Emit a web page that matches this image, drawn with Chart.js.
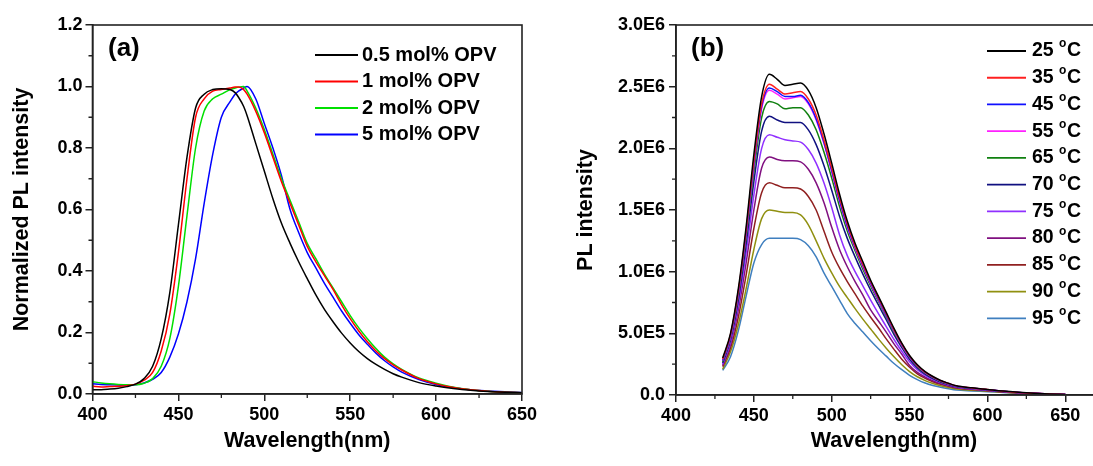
<!DOCTYPE html>
<html><head><meta charset="utf-8">
<script src="https://cdn.jsdelivr.net/npm/chart.js@4.4.0/dist/chart.umd.min.js"></script>
<style>
html,body{margin:0;padding:0;background:#fff;overflow:hidden;width:1093px;height:466px;position:relative;}
#wa{position:absolute;left:0;top:0;width:545px;height:466px;}
#wb{position:absolute;left:545px;top:0;width:570px;height:466px;}
</style></head><body>
<div id="wa"><canvas id="ca" width="545" height="466"></canvas></div>
<div id="wb"><canvas id="cb" width="570" height="466"></canvas></div>
<script>
const FONT = "'Liberation Sans', Arial, Helvetica, sans-serif";

// ---------- Panel (a) data ----------
const wavelengthsA = [400,405,410,415,420,425,430,435,440,445,450,455,460,465,470,475,480,483,485,488,
  490,495,500,505,510,515,520,525,530,535,540,545,550,555,560,565,570,575,580,590,600,610,620,630,640,650];
const seriesA_labels = ['0.5 mol% OPV','1 mol% OPV','2 mol% OPV','5 mol% OPV'];
const seriesA_colors = ['#000000','#ff0000','#00e000','#0000ff'];
const opv05 = [.014,.014,.016,.019,.024,.032,.05,.09,.18,.33,.55,.77,.93,.975,.99,.993,.99,.98,.965,.935,
  .905,.815,.725,.635,.555,.49,.43,.375,.322,.275,.235,.198,.166,.138,.115,.096,.08,.066,.055,.037,.026,.018,.012,.008,.006,.004];
const opv1 = [.025,.023,.024,.025,.027,.032,.045,.07,.14,.26,.46,.70,.90,.96,.985,.99,.995,.998,.998,.99,
  .975,.92,.85,.77,.69,.62,.55,.48,.43,.385,.34,.29,.245,.205,.17,.14,.115,.095,.078,.05,.033,.021,.014,.009,.006,.004];
const opv2 = [.04,.036,.033,.031,.03,.03,.035,.05,.09,.18,.35,.58,.80,.92,.96,.975,.99,.995,.998,1.0,
  .985,.93,.86,.78,.70,.63,.56,.49,.44,.39,.345,.30,.255,.215,.18,.148,.12,.098,.08,.052,.035,.022,.014,.009,.006,.004];
const opv5 = [.033,.031,.03,.029,.028,.03,.036,.048,.07,.12,.195,.30,.44,.62,.78,.90,.95,.975,.985,.995,
  1.0,.96,.88,.80,.71,.60,.525,.46,.41,.36,.315,.27,.23,.193,.162,.133,.108,.088,.071,.047,.031,.021,.014,.01,.007,.005];
const xTicksA = [400,450,500,550,600,650];
const yTickLabelsA = ['0.0','0.2','0.4','0.6','0.8','1.0','1.2'];

// ---------- Panel (b) data (intensity in units of 1E6) ----------
const wavelengthsB = [430,435,440,445,450,455,460,465,470,475,480,485,490,495,500,505,510,515,520,525,530,
  535,540,545,550,555,560,565,570,575,580,590,600,610,620,630,640,650];
const seriesB_labels = ['25 °C','35 °C','45 °C','55 °C','65 °C','70 °C','75 °C','80 °C','85 °C','90 °C','95 °C'];
const seriesB_colors = ['#000000','#ff2020','#1010ff','#ff20ff','#108010','#101080','#9030ff','#801080','#902020','#909010','#3f7fbf'];
const t25 = [.30,.50,.86,1.36,1.95,2.42,2.60,2.56,2.51,2.52,2.53, 2.47,2.33,2.12,1.88,1.63,1.41,1.23,1.08,.93,.80,
  .67,.54,.42,.32,.245,.19,.15,.118,.095,.075, .058,.045,.032,.022,.014,.008,.004];
const t35 = [.29,.49,.84,1.33,1.90,2.36,2.52,2.48,2.44,2.45,2.46, 2.40,2.27,2.07,1.84,1.60,1.39,1.21,1.06,.92,.79,
  .66,.53,.415,.315,.24,.186,.147,.116,.093,.074, .057,.044,.031,.021,.014,.008,.004];
const t45 = [.28,.48,.83,1.31,1.88,2.34,2.49,2.46,2.42,2.42,2.43, 2.37,2.24,2.05,1.82,1.58,1.37,1.20,1.05,.91,.78,
  .65,.525,.41,.31,.237,.183,.145,.114,.092,.073, .056,.043,.031,.021,.014,.008,.004];
const t55 = [.28,.47,.82,1.30,1.86,2.32,2.47,2.44,2.40,2.41,2.42, 2.36,2.23,2.04,1.81,1.57,1.36,1.19,1.04,.90,.77,
  .645,.52,.405,.308,.235,.181,.143,.113,.091,.072, .055,.043,.03,.021,.014,.008,.004];
const t65 = [.27,.46,.80,1.27,1.81,2.25,2.38,2.36,2.32,2.33,2.33, 2.27,2.15,1.97,1.76,1.53,1.33,1.17,1.02,.885,.76,
  .635,.51,.40,.303,.23,.177,.14,.11,.089,.07, .054,.042,.03,.02,.013,.008,.004];
const t70 = [.26,.45,.77,1.22,1.73,2.14,2.26,2.23,2.21,2.21,2.21, 2.15,2.03,1.86,1.66,1.45,1.27,1.12,.98,.85,.73,
  .61,.49,.385,.29,.22,.17,.134,.106,.085,.068, .052,.041,.029,.02,.013,.008,.004];
const t75 = [.25,.43,.73,1.15,1.62,2.00,2.11,2.09,2.07,2.06,2.05, 1.99,1.88,1.72,1.52,1.30,1.13,1.00,.885,.77,.66,
  .555,.45,.355,.27,.205,.16,.127,.101,.081,.065, .05,.039,.028,.019,.013,.008,.004];
const t80 = [.24,.41,.69,1.07,1.50,1.84,1.93,1.91,1.90,1.90,1.89, 1.83,1.72,1.56,1.36,1.18,1.04,.92,.81,.69,.60,
  .51,.415,.33,.24,.183,.145,.116,.093,.075,.06, .047,.037,.027,.018,.012,.007,.004];
const t85 = [.23,.38,.63,.97,1.35,1.64,1.72,1.70,1.68,1.68,1.67, 1.61,1.50,1.33,1.16,1.03,.92,.82,.72,.63,.545,
  .455,.37,.29,.225,.172,.136,.108,.087,.07,.056, .044,.035,.025,.017,.011,.007,.004];
const t90 = [.21,.35,.57,.86,1.18,1.43,1.50,1.49,1.48,1.48,1.46, 1.38,1.25,1.11,.99,.88,.79,.70,.615,.535,.455,
  .38,.31,.245,.19,.148,.117,.093,.075,.06,.049, .039,.031,.023,.016,.01,.006,.003];
const t95 = [.20,.31,.52,.80,1.07,1.22,1.27,1.27,1.27,1.27,1.26, 1.21,1.12,.99,.88,.77,.66,.58,.51,.44,.375,
  .315,.255,.205,.16,.125,.097,.077,.062,.05,.04, .033,.027,.02,.014,.009,.006,.003];
const xTicksB = [400,450,500,550,600,650];
const yTickLabelsB = ['0.0','5.0E5','1.0E6','1.5E6','2.0E6','2.5E6','3.0E6'];

// ---------- helpers ----------
function pts(xs, ys){ return xs.map((x,i)=>({x:x, y:ys[i]})); }
function mkDatasets(xs, list, labels, colors){
  return list.map((ys,i)=>({label:labels[i], data:pts(xs,ys), borderColor:colors[i], backgroundColor:colors[i],
    borderWidth:1.5, pointRadius:0, fill:false, cubicInterpolationMode:'monotone'}));
}

const decor = {
  id:'decor',
  afterDraw(chart, args, o){
    const ctx = chart.ctx, a = chart.chartArea, xs = chart.scales.x, ys = chart.scales.y;
    ctx.save();
    ctx.strokeStyle = '#222'; ctx.lineWidth = 1.6;
    ctx.strokeRect(a.left, a.top, a.right - a.left, a.bottom - a.top);
    // minor ticks
    ctx.lineWidth = 1.3; ctx.beginPath();
    for (let k = 0; ; k++){
      const v = o.xMinor[0] + k*o.xMinor[1]; if (v > o.xMinor[2]) break;
      const px = xs.getPixelForValue(v); ctx.moveTo(px, a.bottom); ctx.lineTo(px, a.bottom + 4);
    }
    for (let k = 0; ; k++){
      const v = o.yMinor[0] + k*o.yMinor[1]; if (v > o.yMinor[2] + 1e-9) break;
      const py = ys.getPixelForValue(v); ctx.moveTo(a.left, py); ctx.lineTo(a.left - 4, py);
    }
    ctx.stroke();
    // panel tag
    ctx.fillStyle = '#000'; ctx.textBaseline = 'middle'; ctx.textAlign = 'left';
    ctx.font = 'bold 26px ' + FONT;
    ctx.fillText(o.tag, o.tagX, o.tagY);
    // legend
    const L = o.legend;
    chart.data.datasets.forEach((ds, i) => {
      const y = L.y0 + i*L.dy;
      ctx.strokeStyle = ds.borderColor; ctx.lineWidth = 1.8;
      ctx.beginPath(); ctx.moveTo(L.x0, y); ctx.lineTo(L.x1, y); ctx.stroke();
      ctx.fillStyle = '#000'; ctx.font = 'bold ' + L.size + 'px ' + FONT;
      const parts = ds.label.split('°');
      let x = L.tx;
      ctx.fillText(parts[0], x, y); x += ctx.measureText(parts[0]).width;
      if (parts.length > 1){
        ctx.font = 'bold ' + Math.round(L.size*0.62) + 'px ' + FONT;
        ctx.fillText('o', x, y - L.size*0.35); x += ctx.measureText('o').width + 0.5;
        ctx.font = 'bold ' + L.size + 'px ' + FONT;
        ctx.fillText(parts[1], x, y);
      }
    });
    ctx.restore();
  }
};

function axisCommon(){
  return {
    grid:{display:true, drawOnChartArea:false, drawTicks:true, tickLength:7, color:'#222', lineWidth:1.5},
    border:{display:true, color:'#222', width:1.6}
  };
}
const tickFont = {family:FONT, size:18, weight:'bold'};
const titleFont = {family:FONT, size:21.5, weight:'bold'};

// ---------- Chart (a) ----------
new Chart(document.getElementById('ca'), {
  type:'line',
  data:{datasets: mkDatasets(wavelengthsA, [opv05, opv1, opv2, opv5], seriesA_labels, seriesA_colors)},
  options:{
    responsive:false, devicePixelRatio:1, animation:false,
    layout:{padding:{top:25, right:23, left:0, bottom:0}},
    plugins:{legend:{display:false}, tooltip:{enabled:false},
      decor:{tag:'(a)', tagX:108, tagY:49, xMinor:[425,50,650], yMinor:[0.1,0.2,1.2],
        legend:{x0:315, x1:358, tx:362, y0:55, dy:26.5, size:20}}},
    scales:{
      x:Object.assign(axisCommon(), {type:'linear', min:400, max:650,
        afterBuildTicks: s => { s.ticks = xTicksA.map(v=>({value:v})); },
        ticks:{color:'#000', font:tickFont, padding:3, maxRotation:0, autoSkip:false, callback:v=>String(v)},
        title:{display:true, text:'Wavelength(nm)', color:'#000', font:titleFont, padding:{top:0,bottom:12}},
        afterFit: s => { s.height = 72; }}),
      y:Object.assign(axisCommon(), {type:'linear', min:0, max:1.2,
        ticks:{color:'#000', font:tickFont, padding:3, stepSize:0.2, callback:v=>yTickLabelsA[Math.round(v/0.2)]},
        title:{display:true, text:'Normalized PL intensity', color:'#000', font:titleFont, padding:{top:9.5,bottom:0}},
        afterFit: s => { s.width = 92.5; }})
    }
  },
  plugins:[decor]
});

// ---------- Chart (b) ----------
new Chart(document.getElementById('cb'), {
  type:'line',
  data:{datasets: mkDatasets(wavelengthsB, [t25,t35,t45,t55,t65,t70,t75,t80,t85,t90,t95], seriesB_labels, seriesB_colors)},
  options:{
    responsive:false, devicePixelRatio:1, animation:false,
    layout:{padding:{top:25, right:3, left:0, bottom:0}},
    plugins:{legend:{display:false}, tooltip:{enabled:false},
      decor:{tag:'(b)', tagX:146, tagY:49, xMinor:[425,50,680], yMinor:[0.25,0.5,3.0],
        legend:{x0:442, x1:481, tx:487, y0:51, dy:26.73, size:19.5}}},
    scales:{
      x:Object.assign(axisCommon(), {type:'linear', min:400, max:680,
        afterBuildTicks: s => { s.ticks = xTicksB.map(v=>({value:v})); },
        ticks:{color:'#000', font:tickFont, padding:3, maxRotation:0, autoSkip:false, callback:v=>String(v)},
        title:{display:true, text:'Wavelength(nm)', color:'#000', font:titleFont, padding:{top:0,bottom:12}},
        afterFit: s => { s.height = 71; }}),
      y:Object.assign(axisCommon(), {type:'linear', min:0, max:3,
        ticks:{color:'#000', font:tickFont, padding:4, stepSize:0.5, callback:v=>yTickLabelsB[Math.round(v/0.5)]},
        title:{display:true, text:'PL intensity', color:'#000', font:titleFont, padding:{top:28,bottom:0}},
        afterFit: s => { s.width = 131; }})
    }
  },
  plugins:[decor]
});
</script>
</body></html>
